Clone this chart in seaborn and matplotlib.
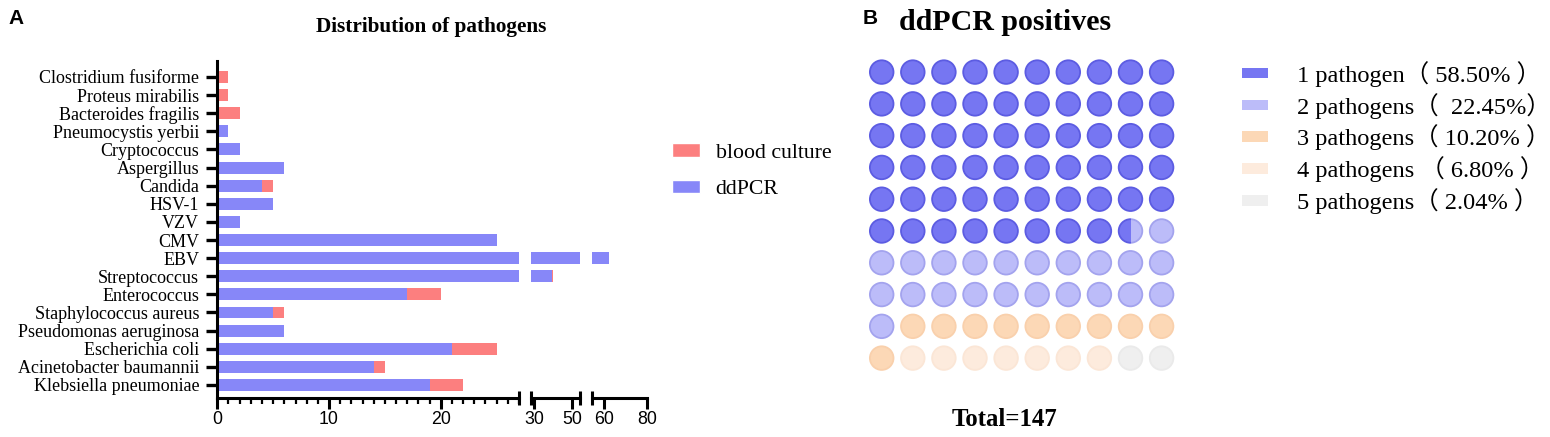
import numpy as np
import pandas as pd
import matplotlib
matplotlib.use("Agg")
import matplotlib.pyplot as plt
import matplotlib.transforms as mtransforms
from matplotlib.patches import Ellipse, Rectangle, Patch
from matplotlib.ticker import MultipleLocator
import seaborn as sns

# ---------------- data ----------------
pathogens = ["Clostridium fusiforme", "Proteus mirabilis", "Bacteroides fragilis",
             "Pneumocystis yerbii", "Cryptococcus", "Aspergillus", "Candida", "HSV-1",
             "VZV", "CMV", "EBV", "Streptococcus", "Enterococcus",
             "Staphylococcus aureus", "Pseudomonas aeruginosa", "Escherichia coli",
             "Acinetobacter baumannii", "Klebsiella pneumoniae"]
ddpcr = [0, 0, 0, 1, 2, 6, 4, 5, 2, 25, 62, 39, 17, 5, 6, 21, 14, 19]
blood_culture = [1, 1, 2, 0, 0, 0, 1, 0, 0, 0, 0, 1, 3, 1, 0, 4, 1, 3]

segment_ranges = [(0, 27), (28, 54), (54, 80)]
segment_ticks = [[0, 10, 20], [30, 50], [60, 80]]

group_labels = ["1 pathogen（ 58.50% ）", "2 pathogens（  22.45%）",
                "3 pathogens（ 10.20% ）", "4 pathogens （ 6.80% ）",
                "5 pathogens（ 2.04% ）"]
group_pct = [58.50, 22.45, 10.20, 6.80, 2.04]
total_n = 147

# ---------------- style ----------------
sns.set_theme(style="ticks")
plt.rcParams["font.family"] = ["Liberation Serif", "DejaVu Sans"]
for k in ["text.color", "axes.labelcolor", "xtick.color", "ytick.color", "axes.edgecolor"]:
    plt.rcParams[k] = "black"

RED = "#FC7F7F"
BLUE = "#8787F8"
fill_cols = ["#7676F2", "#BCBCF9", "#FCD8B6", "#FDEBDD", "#EFEFEF"]
edge_cols = ["#5C5CE2", "#A3A3EE", "#F9D0AC", "#FBE6D6", "#EAEAEA"]

W, H = 1550, 437
fig = plt.figure(figsize=(W / 100, H / 100), dpi=100)

def fx(px):
    return px / W

def fy(py):
    return 1 - py / H

df = pd.DataFrame({"pathogen": pathogens, "ddPCR": ddpcr, "blood": blood_culture})
df["total"] = df["ddPCR"] + df["blood"]

seg_px = [(217.3, 519.0), (530.7, 580.0), (591.7, 647.0)]
ax_top, ax_bot = 61, 398
for i, ((x0, x1), (lo, hi), ticks) in enumerate(zip(seg_px, segment_ranges, segment_ticks)):
    ax = fig.add_axes([fx(x0), fy(ax_bot), fx(x1 - x0), (ax_bot - ax_top) / H])
    sns.barplot(data=df, x="total", y="pathogen", order=pathogens, color=RED,
                width=0.66, linewidth=0, saturation=1, errorbar=None, ax=ax)
    sns.barplot(data=df, x="ddPCR", y="pathogen", order=pathogens, color=BLUE,
                width=0.66, linewidth=0, saturation=1, errorbar=None, ax=ax)
    ax.set_xlim(lo, hi)
    ax.set_ylim(17.72, -0.88)
    ax.set_xlabel("")
    ax.set_ylabel("")
    ax.set_xticks(ticks)
    ax.set_xticklabels([str(t) for t in ticks], family="Liberation Sans", fontsize=12.8)
    ax.tick_params(axis="x", direction="out", length=8, width=2.2, pad=1, color="black")
    for s in ["top", "right"]:
        ax.spines[s].set_visible(False)
    ax.spines["bottom"].set_linewidth(2.2)
    ax.set_facecolor("none")
    trans = mtransforms.blended_transform_factory(ax.transData, ax.transAxes)
    if i == 0:
        ax.xaxis.set_minor_locator(MultipleLocator(1))
        ax.tick_params(axis="x", which="minor", direction="out", length=4, width=1.6)
        ax.spines["left"].set_linewidth(2.2)
        ax.tick_params(axis="y", direction="out", length=8, width=2.4, pad=5,
                       labelsize=13)
        caps = [hi]
    else:
        ax.spines["left"].set_visible(False)
        ax.tick_params(axis="y", left=False, labelleft=False)
        caps = [lo, hi] if i == 1 else [lo]
    for c in caps:
        ax.plot([c, c], [-0.02, 0.02], transform=trans, clip_on=False,
                color="black", lw=2.2, solid_capstyle="butt")

fig.text(fx(431), fy(27), "Distribution of pathogens", ha="center", va="center",
         fontsize=15.3, fontweight="bold", family="Liberation Serif")
fig.text(fx(16), fy(18), "A", ha="center", va="center", fontsize=15,
         fontweight="bold", family="Liberation Sans")

legA = [Patch(facecolor=RED, label="blood culture"), Patch(facecolor=BLUE, label="ddPCR")]
fig.legend(handles=legA, loc="upper left", bbox_to_anchor=(fx(672), fy(143)),
           frameon=False, prop={"family": "Liberation Serif", "size": 15.7},
           handlelength=1.28, handleheight=0.6, handletextpad=0.72,
           labelspacing=0.78, borderpad=0, borderaxespad=0)

# ---------------- panel B : waffle ----------------
axB = fig.add_axes([fx(866.15), fy(374.0), fx(311.0), (374.0 - 56.2) / H])
axB.set_xlim(-0.5, 9.5)
axB.set_ylim(9.5, -0.5)
axB.axis("off")

bounds = np.concatenate([[0], np.round(np.cumsum(group_pct) * 2) / 2])
ew, eh = 23.6 / 31.1, 23.6 / 31.8
for k in range(100):
    r, c = divmod(k, 10)
    for g in range(len(group_pct)):
        a = max(bounds[g], k)
        b = min(bounds[g + 1], k + 1)
        if b - a <= 0:
            continue
        e = Ellipse((c, r), ew, eh, facecolor=fill_cols[g], edgecolor=edge_cols[g], lw=1.3)
        axB.add_patch(e)
        rect = Rectangle((c - 0.5 + (a - k), r - 0.5), b - a, 1, transform=axB.transData)
        e.set_clip_path(rect)

fig.text(fx(1005), fy(23), "ddPCR positives", ha="center", va="center",
         fontsize=21.5, fontweight="bold", family="Liberation Serif")
fig.text(fx(870), fy(18), "B", ha="center", va="center", fontsize=15,
         fontweight="bold", family="Liberation Sans")
fig.text(fx(1004), fy(419), f"Total={total_n}", ha="center", va="center",
         fontsize=17.8, fontweight="bold", family="Liberation Serif")

legB = [Patch(facecolor=fill_cols[g], edgecolor="none", label=group_labels[g])
        for g in range(len(group_labels))]
fig.legend(handles=legB, loc="upper left", bbox_to_anchor=(fx(1242), fy(61)),
           frameon=False, prop={"family": ["Liberation Serif", "Noto Sans CJK SC"], "size": 17.6},
           handlelength=1.07, handleheight=0.3, handletextpad=1.17,
           labelspacing=0.24, borderpad=0, borderaxespad=0)

fig.savefig("out.png", dpi=100)
